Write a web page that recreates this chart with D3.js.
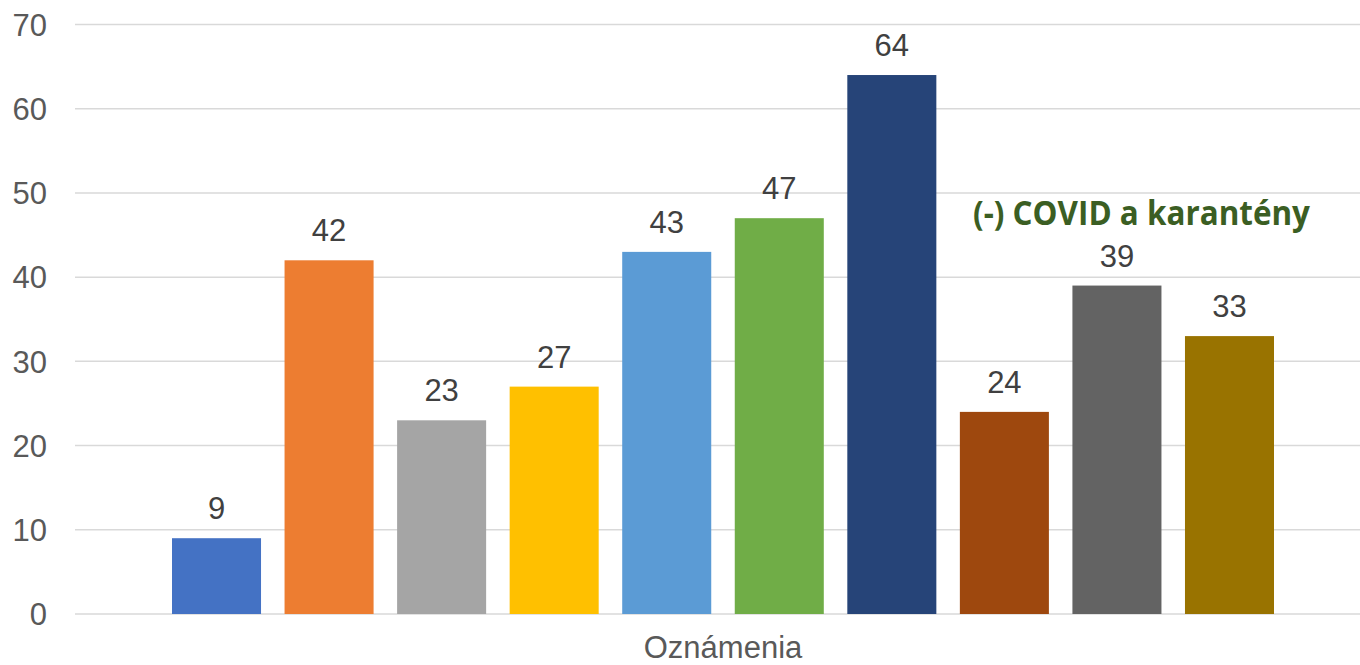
<!DOCTYPE html>
<html>
<head>
<meta charset="utf-8">
<script src="https://cdn.jsdelivr.net/npm/d3@7"></script>
<style>
  body { margin: 0; background: #fff; }
  svg { display: block; font-family: "Liberation Sans", Arial, sans-serif; }
</style>
</head>
<body>
<svg width="1360" height="665"></svg>
<script>
const series = ["s1", "s2", "s3", "s4", "s5", "s6", "s7", "s8", "s9", "s10"]
const values = [9, 42, 23, 27, 43, 47, 64, 24, 39, 33]
const colors = ["#4472C4", "#ED7D31", "#A5A5A5", "#FFC000", "#5B9BD5", "#70AD47", "#264478", "#9E480E", "#636363", "#997300"]
const yTicks = [0, 10, 20, 30, 40, 50, 60, 70]
const category = "Oznámenia"
const note = "(-) COVID a karantény"

const svg = d3.select("svg")

const y = d3.scaleLinear()
  .domain([0, 70])
  .range([614, 24.5])

const x = d3.scaleBand()
  .domain(series)
  .range([172, 1274])
  .paddingInner(0.209)

// gridlines
svg.append("g")
  .selectAll("line")
  .data(yTicks)
  .enter()
  .append("line")
  .attr("x1", 75)
  .attr("x2", 1360)
  .attr("y1", d => y(d))
  .attr("y2", d => y(d))
  .attr("stroke", "#d9d9d9")
  .attr("stroke-width", 1.5)

// y tick labels
svg.append("g")
  .selectAll("text")
  .data(yTicks)
  .enter()
  .append("text")
  .attr("x", 47)
  .attr("y", d => y(d))
  .attr("dy", "0.36em")
  .attr("text-anchor", "end")
  .attr("font-size", 31)
  .attr("fill", "#595959")
  .text(d => d)

// bars
svg.append("g")
  .selectAll("rect")
  .data(values)
  .enter()
  .append("rect")
  .attr("x", (d, i) => x(series[i]))
  .attr("width", x.bandwidth())
  .attr("y", d => y(d))
  .attr("height", d => y(0) - y(d))
  .attr("fill", (d, i) => colors[i])

// value labels
svg.append("g")
  .selectAll("text")
  .data(values)
  .enter()
  .append("text")
  .attr("x", (d, i) => x(series[i]) + x.bandwidth() / 2)
  .attr("y", d => y(d) - 19)
  .attr("text-anchor", "middle")
  .attr("font-size", 31)
  .attr("fill", "#404040")
  .text(d => d)

// category label
svg.append("text")
  .attr("x", 723)
  .attr("y", 658)
  .attr("text-anchor", "middle")
  .attr("font-size", 31)
  .attr("fill", "#595959")
  .text(category)

// annotation
svg.append("text")
  .attr("x", 973)
  .attr("y", 225)
  .attr("font-family", "'Open Sans', sans-serif")
  .attr("font-weight", "bold")
  .attr("font-size", 34)
  .attr("fill", "#3B5E23")
  .attr("textLength", 337)
  .attr("lengthAdjust", "spacingAndGlyphs")
  .text(note)
</script>
</body>
</html>
